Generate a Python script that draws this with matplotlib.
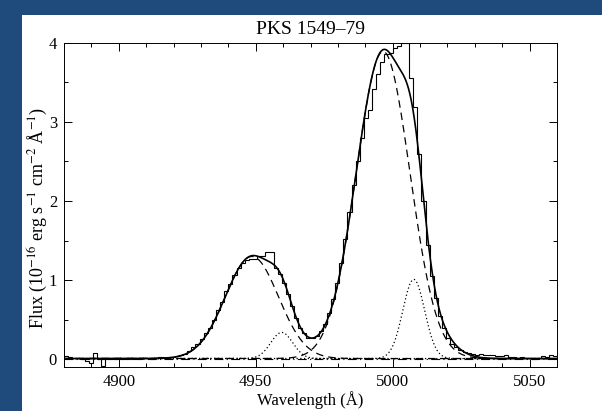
import numpy as np
import matplotlib
matplotlib.use('Agg')
import matplotlib.pyplot as plt
from matplotlib.patches import Rectangle
from matplotlib.ticker import MultipleLocator

plt.rcParams['font.family'] = ['Liberation Serif', 'DejaVu Serif']
plt.rcParams['mathtext.fontset'] = 'stix'

# observed spectrum, 1.5 A bins starting at 4880 A
wave_start = 4880.0
bin_width = 1.5
flux = [0.04, 0.03, 0.02, 0.02, 0.01, -0.02, -0.05, 0.08, 0.0, -0.09,
        0.0, 0.01, 0.01, 0.02, 0.01, 0.01, 0.02, 0.02, 0.01, 0.02,
        0.02, 0.01, 0.02, 0.03, 0.02, 0.03, 0.03, 0.04, 0.05, 0.07,
        0.10, 0.15, 0.20, 0.26, 0.33, 0.40, 0.50, 0.62, 0.72, 0.86,
        0.95, 1.07, 1.15, 1.22, 1.25, 1.27, 1.27, 1.30, 1.31, 1.35,
        1.35, 1.15, 1.08, 0.97, 0.82, 0.68, 0.52, 0.40, 0.33, 0.27,
        0.27, 0.30, 0.36, 0.45, 0.58, 0.76, 0.96, 1.22, 1.52, 1.86,
        2.20, 2.50, 2.80, 3.05, 3.15, 3.42, 3.61, 3.75, 3.86, 3.87,
        3.93, 3.96, 3.99, 3.99, 3.55, 3.19, 2.60, 2.00, 1.45, 1.05,
        0.78, 0.55, 0.40, 0.27, 0.20, 0.15, 0.12, 0.09, 0.08, 0.07,
        0.06, 0.07, 0.06, 0.06, 0.05, 0.04, 0.04, 0.05, 0.03, 0.03,
        0.02, 0.03, 0.02, 0.02, 0.01, 0.02, 0.04, 0.03, 0.05, 0.04]

# fitted gaussian components ([OIII] 4959, 5007)
broad_center = [4948.6, 4996.5]
broad_amp = [1.29, 3.88]
broad_sigma = [9.7, 9.8]
narrow_center = [4959.5, 5007.7]
narrow_amp = [0.33, 1.00]
narrow_sigma = [4.0, 4.0]
wing_center = [4967.0, 5016.0]
wing_amp = [0.04, 0.12]
wing_sigma = [7.0, 7.0]
continuum = 0.01


def gauss(x, c, a, s):
    return a * np.exp(-(x - c) ** 2 / (2 * s ** 2))


edges = wave_start + bin_width * np.arange(len(flux) + 1)
x = np.linspace(4880, 5060, 1500)

fig = plt.figure(figsize=(6.02, 4.11), dpi=100)
fig.patch.set_facecolor('#1f4a7c')
fig.add_artist(Rectangle((22 / 602, 0), 580 / 602, 396 / 411,
                         transform=fig.transFigure, facecolor='white',
                         edgecolor='none', zorder=0))
ax = fig.add_axes([64 / 602, 44.3 / 411, 493 / 602, 324 / 411])

ax.stairs(flux, edges, color='black', lw=0.8)

total = np.full_like(x, continuum)
for c, a, s in zip(broad_center, broad_amp, broad_sigma):
    y = gauss(x, c, a, s)
    total += y
    ax.plot(x, y + continuum, color='black', lw=0.9, ls=(0, (6, 4)))
for c, a, s in zip(narrow_center, narrow_amp, narrow_sigma):
    y = gauss(x, c, a, s)
    total += y
    ax.plot(x, y + continuum, color='black', lw=0.9, ls=(0, (1, 2)))
for c, a, s in zip(wing_center, wing_amp, wing_sigma):
    total += gauss(x, c, a, s)

ax.plot(x, total, color='black', lw=1.2)
ax.axhline(continuum, color='black', lw=0.8, ls=(0, (8, 3, 1, 3)))

ax.set_xlim(4880, 5060)
ax.set_ylim(-0.093, 4.0)
ax.xaxis.set_major_locator(MultipleLocator(50))
ax.xaxis.set_minor_locator(MultipleLocator(10))
ax.yaxis.set_major_locator(MultipleLocator(1))
ax.yaxis.set_minor_locator(MultipleLocator(0.5))
ax.tick_params(which='both', direction='in', top=True, right=True,
               labelsize=12, width=0.7)
ax.tick_params(which='major', length=6, pad=5)
ax.tick_params(which='minor', length=3)
for sp in ax.spines.values():
    sp.set_linewidth(0.7)

ax.set_title('PKS 1549\u201379', fontsize=14, pad=6)
ax.set_xlabel('Wavelength (\u00c5)', fontsize=12, labelpad=1)
ax.set_ylabel('Flux (10$^{-16}$ erg s$^{-1}$ cm$^{-2}$ \u00c5$^{-1}$)',
              fontsize=13)
ax.yaxis.set_label_coords(-0.031, 0.46)

fig.savefig('out.png', dpi=100, facecolor=fig.get_facecolor())
